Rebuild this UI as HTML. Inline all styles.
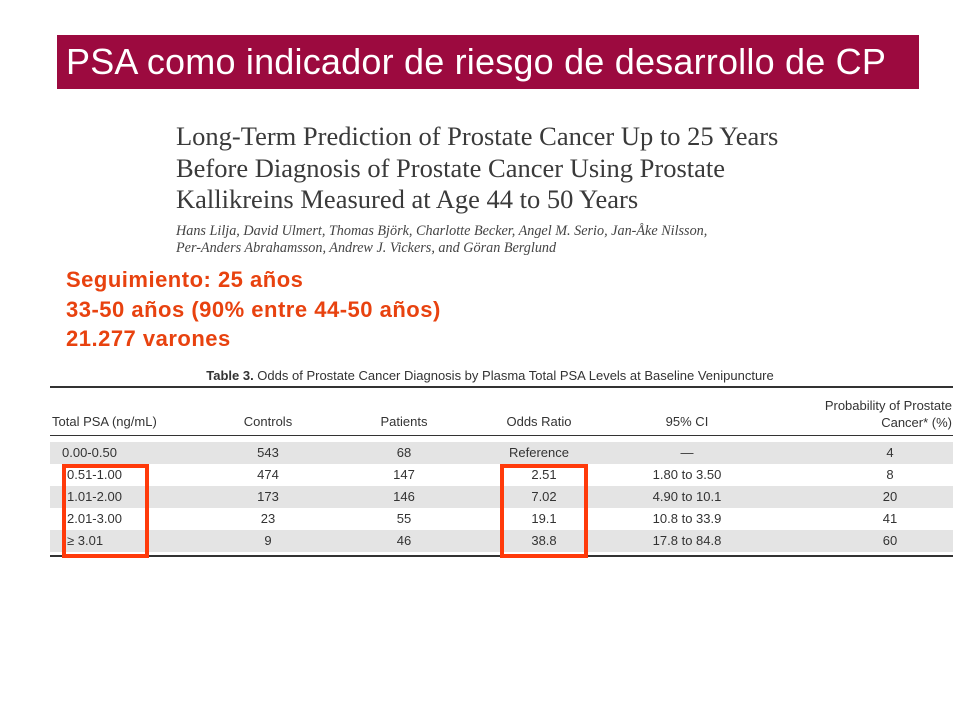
<!DOCTYPE html>
<html><head><meta charset="utf-8"><style>
body{margin:0;width:960px;height:720px;background:#fff;position:relative;overflow:hidden;font-family:"Liberation Sans",sans-serif}
.a{position:absolute;white-space:nowrap}
.title{left:57px;top:35px;width:862px;height:54px;background:#9c0a3f;color:#fff;font-size:36px;line-height:54px;padding-left:9px;box-sizing:border-box;letter-spacing:0.2px}
.serif{font-family:"Liberation Serif",serif;color:#3a3a3a;font-size:26.5px;left:176px}
.auth{font-family:"Liberation Serif",serif;font-style:italic;color:#444;font-size:14.2px;left:176px}
.or{left:66px;color:#e8420f;font-weight:bold;font-size:22px;letter-spacing:0.5px}
.t{font-family:"Liberation Sans Narrow","Liberation Sans",sans-serif;font-size:13px;color:#333}
.row{position:absolute;left:50px;width:903px;height:22px}
.gray{background:#e4e4e4}
.c{position:absolute;transform:translateX(-50%);text-align:center}
.box{position:absolute;border:4px solid #ff3a0a;box-sizing:border-box}
</style></head><body>
<div class="a title">PSA como indicador de riesgo de desarrollo de CP</div>
<div class="a serif" style="top:121px">Long-Term Prediction of Prostate Cancer Up to 25 Years</div>
<div class="a serif" style="top:153px">Before Diagnosis of Prostate Cancer Using Prostate</div>
<div class="a serif" style="top:184px">Kallikreins Measured at Age 44 to 50 Years</div>
<div class="a auth" style="top:223px">Hans Lilja, David Ulmert, Thomas Björk, Charlotte Becker, Angel M. Serio, Jan-Åke Nilsson,</div>
<div class="a auth" style="top:240px">Per-Anders Abrahamsson, Andrew J. Vickers, and Göran Berglund</div>
<div class="a or" style="top:267px">Seguimiento: 25 años</div>
<div class="a or" style="top:297px">33-50 años (90% entre 44-50 años)</div>
<div class="a or" style="top:326px">21.277 varones</div>

<div class="a t" style="left:490px;top:368px;transform:translateX(-50%)"><b>Table 3.</b> Odds of Prostate Cancer Diagnosis by Plasma Total PSA Levels at Baseline Venipuncture</div>
<div class="a" style="left:50px;top:386px;width:903px;height:2px;background:#333"></div>
<div class="a t" style="left:52px;top:414px">Total PSA (ng/mL)</div>
<div class="a t c" style="left:268px;top:414px">Controls</div>
<div class="a t c" style="left:404px;top:414px">Patients</div>
<div class="a t c" style="left:539px;top:414px">Odds Ratio</div>
<div class="a t c" style="left:687px;top:414px">95% CI</div>
<div class="a t" style="right:8px;top:397px;text-align:right;line-height:17px">Probability of Prostate<br>Cancer* (%)</div>
<div class="a" style="left:50px;top:435px;width:903px;height:1px;background:#333"></div>
<div id="rows"></div>
<div class="a" style="left:50px;top:555px;width:903px;height:2px;background:#333"></div>
<div class="box" style="left:62px;top:464px;width:87px;height:94px"></div>
<div class="box" style="left:500px;top:464px;width:88px;height:94px"></div>
<script>
const psa=["0.00-0.50","0.51-1.00","1.01-2.00","2.01-3.00","≥ 3.01"];
const controls=["543","474","173","23","9"];
const patients=["68","147","146","55","46"];
const odds=["Reference","2.51","7.02","19.1","38.8"];
const ci=["—","1.80 to 3.50","4.90 to 10.1","10.8 to 33.9","17.8 to 84.8"];
const prob=["4","8","20","41","60"];
const host=document.getElementById('rows');
psa.forEach((p,i)=>{
  const r=document.createElement('div');
  r.className='row'+(i%2===0?' gray':'');
  r.style.top=(442+i*22)+'px';
  
  
  const cells=[[p,0,'psa-cell'],[controls[i],218,'controls-cell'],[patients[i],354,'patients-cell'],[odds[i],i===0?489:494,'odds-cell'],[ci[i],637,'ci-cell'],[prob[i],840,'probability-cell']];
  cells.forEach(([txt,x,n],j)=>{
    const s=document.createElement('div');
    s.className='t c';
    s.style.left=x+'px';
    if(j===0){s.style.transform='none';s.style.left=(i===0?12:17)+'px';}
    s.style.top='3px';
    s.textContent=txt;
    
    
    r.appendChild(s);
  });
  host.appendChild(r);
});
</script>
</body></html>
